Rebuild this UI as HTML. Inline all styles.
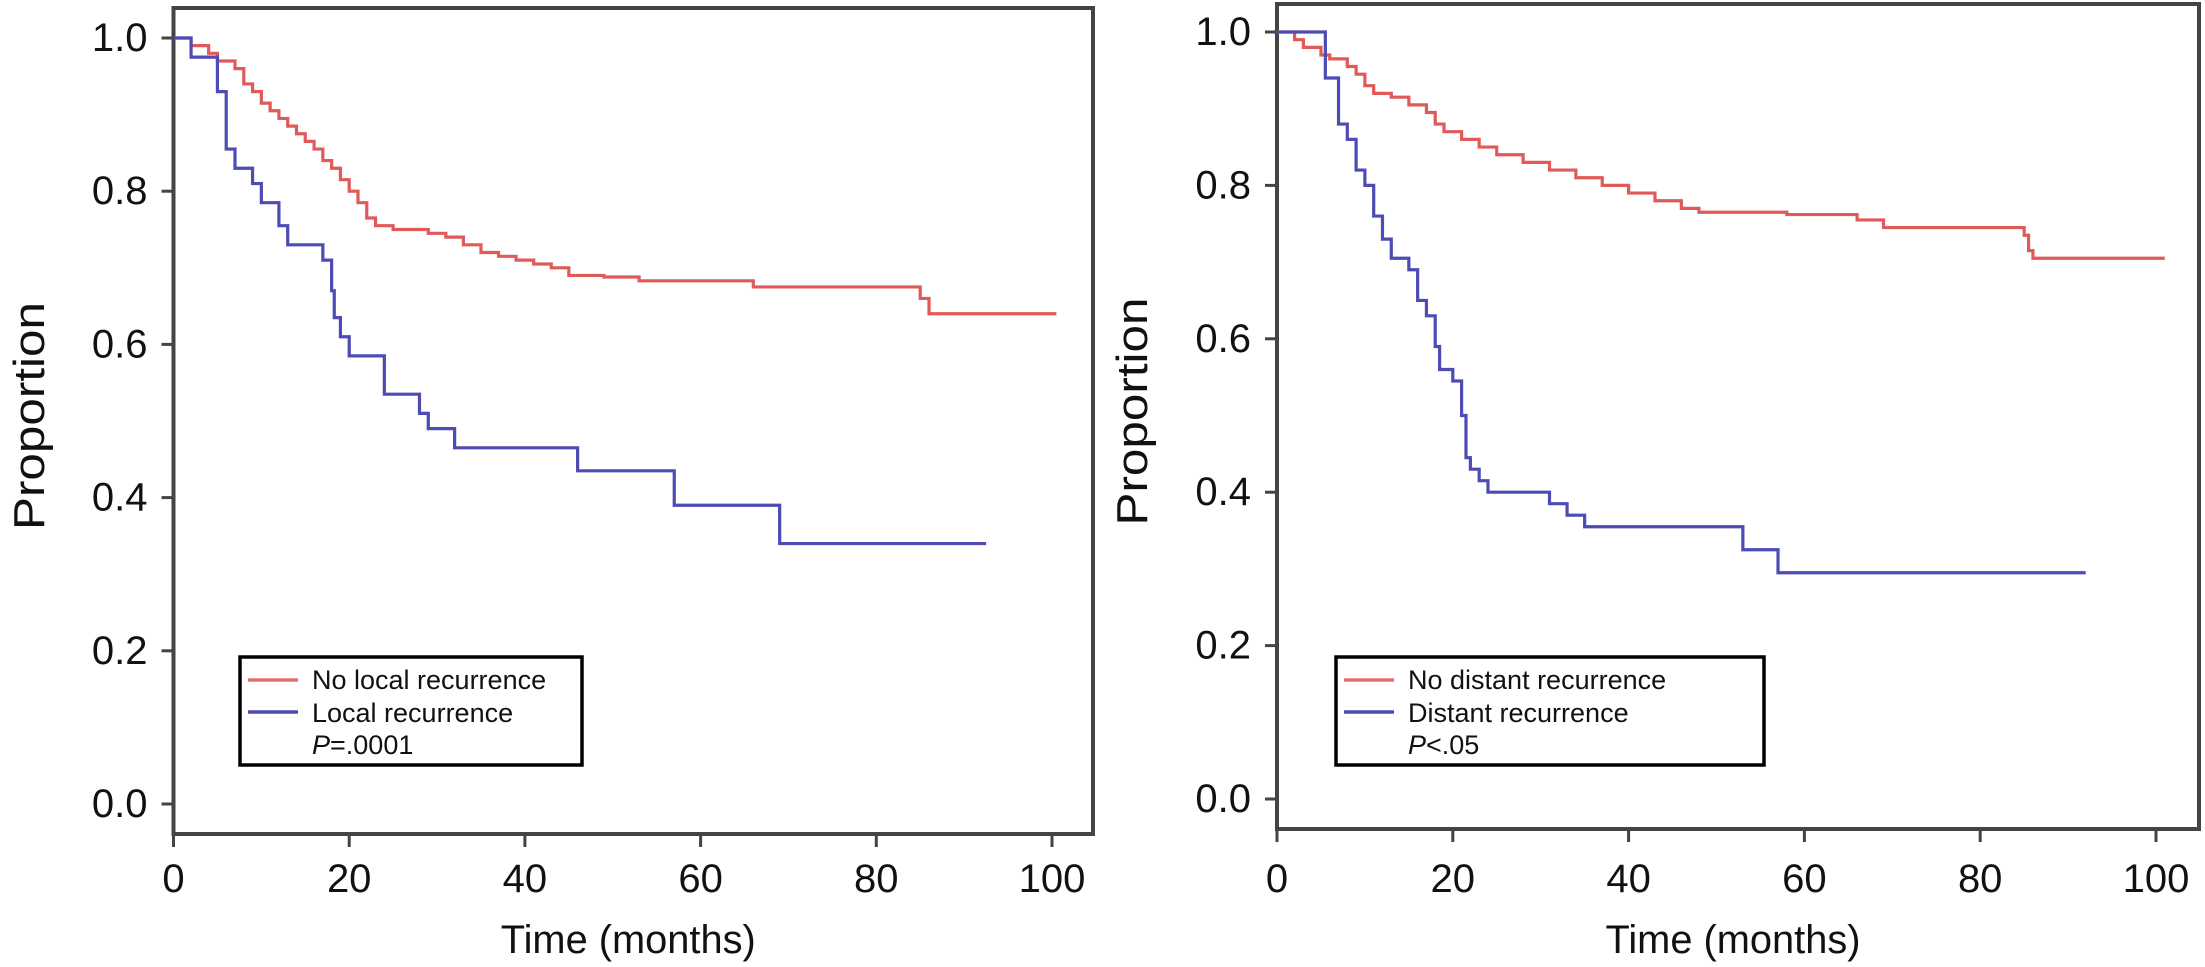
<!DOCTYPE html>
<html><head><meta charset="utf-8"><style>
html,body{margin:0;padding:0;background:#fff;}
svg{display:block;font-family:"Liberation Sans",Arial,sans-serif;}
</style></head><body>
<svg id="c" width="2205" height="967" viewBox="0 0 2205 967" xmlns="http://www.w3.org/2000/svg"></svg>
<script>
// Left panel data (local recurrence)
const leftRedTimes = [0,2,4,5,7,8,9,10,11,12,13,14,15,16,17,18,19,20,21,22,23,25,29,31,33,35,37,39,41,43,45,49,53,66,85,86,100.5];
const leftRedVals  = [1.0,0.99,0.98,0.97,0.96,0.94,0.93,0.915,0.905,0.895,0.885,0.875,0.865,0.855,0.84,0.83,0.815,0.80,0.785,0.765,0.755,0.75,0.745,0.74,0.73,0.72,0.715,0.71,0.705,0.70,0.69,0.688,0.683,0.675,0.66,0.64,0.64];
const leftBlueTimes = [0,2,5,5.5,6,7,9,10,12,13,17,18,18.3,19,20,24,28,29,32,46,57,69,92.5];
const leftBlueVals  = [1.0,0.975,0.93,0.93,0.855,0.83,0.81,0.785,0.755,0.73,0.71,0.67,0.635,0.61,0.585,0.535,0.51,0.49,0.465,0.435,0.39,0.34,0.34];
// Right panel data (distant recurrence)
const rightRedTimes = [0,2,3,5,6,8,9,10,11,13,15,17,18,19,21,23,25,28,31,34,37,40,43,46,48,58,66,69,85,85.5,86,101];
const rightRedVals  = [1.0,0.99,0.98,0.97,0.965,0.955,0.945,0.93,0.92,0.915,0.905,0.895,0.88,0.87,0.86,0.85,0.84,0.83,0.82,0.81,0.80,0.79,0.78,0.77,0.765,0.762,0.755,0.745,0.735,0.715,0.705,0.705];
const rightBlueTimes = [0,5.5,7,8,9,10,11,12,13,15,16,17,18,18.5,20,21,21.5,22,23,24,31,33,35,53,57,92];
const rightBlueVals  = [1.0,0.94,0.88,0.86,0.82,0.80,0.76,0.73,0.705,0.69,0.65,0.63,0.59,0.56,0.545,0.50,0.445,0.43,0.415,0.40,0.385,0.37,0.355,0.325,0.295,0.295];
const xTicks = [0,20,40,60,80,100];
const yTicks = [0.0,0.2,0.4,0.6,0.8,1.0];
const yTickLabels = ["0.0","0.2","0.4","0.6","0.8","1.0"];

const NS="http://www.w3.org/2000/svg";
const svg=document.getElementById('c');
function mk(tag,attrs,parent){const e=document.createElementNS(NS,tag);for(const k in attrs)e.setAttribute(k,attrs[k]);(parent||svg).appendChild(e);return e;}

function panel(cfg){
  const g=mk('g',{});
  
  
  const X=t=>cfg.x0+(cfg.x100-cfg.x0)*t/100;
  const Y=v=>cfg.y0+(cfg.y1-cfg.y0)*v;
  const fr=mk('rect',{x:cfg.x0,y:cfg.top,width:cfg.right-cfg.x0,height:cfg.bottom-cfg.top,fill:'none',stroke:'#444',"stroke-width":4},g);
  
  
  yTicks.forEach((v,i)=>{
    const t=mk('line',{x1:cfg.x0-12,x2:cfg.x0,y1:Y(v),y2:Y(v),stroke:'#444',"stroke-width":3},g);
    
    
    const l=mk('text',{x:cfg.x0-26,y:Y(v)+13,"font-size":40,"text-anchor":"end",fill:'#111'},g);
    l.textContent=yTickLabels[i];
    
    
  });
  xTicks.forEach(v=>{
    const t=mk('line',{x1:X(v),x2:X(v),y1:cfg.bottom,y2:cfg.bottom+13,stroke:'#444',"stroke-width":3},g);
    
    
    const l=mk('text',{x:X(v),y:892,"font-size":40,"text-anchor":"middle",fill:'#111'},g);
    l.textContent=String(v);
    
    
  });
  const yl=mk('text',{x:0,y:0,"font-size":44,"text-anchor":"middle",textLength:228,lengthAdjust:"spacingAndGlyphs",fill:'#111',transform:`translate(${cfg.ylabX},${(cfg.top+cfg.bottom)/2-5}) rotate(-90)`},g);
  yl.textContent='Proportion';
  
  
  const xl=mk('text',{x:(cfg.x0+cfg.right)/2-5,y:953,"font-size":40,"text-anchor":"middle",textLength:255,lengthAdjust:"spacingAndGlyphs",fill:'#111'},g);
  xl.textContent='Time (months)';
  
  
  function step(ts,vs,color,name){
    let d=`M${X(ts[0])},${Y(vs[0])}`;
    for(let i=1;i<ts.length;i++){d+=` H${X(ts[i])} V${Y(vs[i])}`;}
    const p=mk('path',{d:d,fill:'none',stroke:color,"stroke-width":3.2},g);
    
    
  }
  step(cfg.redT,cfg.redV,'#e05a5a',cfg.redName);
  step(cfg.blueT,cfg.blueV,'#4c4cb4',cfg.blueName);
  const lg=mk('g',{},g);
  
  
  mk('rect',{x:cfg.lx,y:657,width:cfg.lw,height:108,fill:'#fff',stroke:'#000',"stroke-width":3.5},lg);
  mk('line',{x1:cfg.lx+8,x2:cfg.lx+58,y1:680,y2:680,stroke:'#e07070',"stroke-width":3.5},lg);
  mk('line',{x1:cfg.lx+8,x2:cfg.lx+58,y1:712,y2:712,stroke:'#4c4cb4',"stroke-width":3.5},lg);
  const t1=mk('text',{x:cfg.lx+72,y:689,"font-size":27,fill:'#111'},lg);
  t1.textContent=cfg.l1;
  
  
  const t2=mk('text',{x:cfg.lx+72,y:722,"font-size":27,fill:'#111'},lg);
  t2.textContent=cfg.l2;
  
  
  const t3=mk('text',{x:cfg.lx+72,y:754,"font-size":27,fill:'#111'},lg);
  const ti=mk('tspan',{"font-style":"italic"},t3);ti.textContent='P';
  const tr=mk('tspan',{},t3);tr.textContent=cfg.p;
  
  
}
panel({name:'left-panel',x0:173.5,x100:1052,right:1093,top:8,bottom:834,y0:804,y1:38,ylabX:44,
  redT:leftRedTimes,redV:leftRedVals,blueT:leftBlueTimes,blueV:leftBlueVals,redName:'no-local-recurrence-curve',blueName:'local-recurrence-curve',
  lx:240,lw:342,l1:'No local recurrence',l2:'Local recurrence',p:'=.0001'});
panel({name:'right-panel',x0:1277,x100:2156,right:2199,top:4,bottom:829,y0:799,y1:32,ylabX:1147,
  redT:rightRedTimes,redV:rightRedVals,blueT:rightBlueTimes,blueV:rightBlueVals,redName:'no-distant-recurrence-curve',blueName:'distant-recurrence-curve',
  lx:1336,lw:428,l1:'No distant recurrence',l2:'Distant recurrence',p:'<.05'});
</script>
</body></html>
